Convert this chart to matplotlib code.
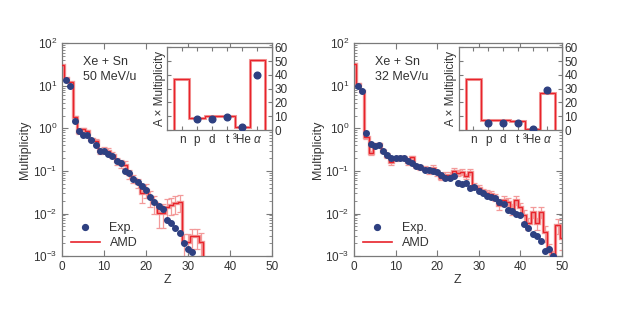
import matplotlib
matplotlib.use('Agg')
import matplotlib.pyplot as plt
from matplotlib.lines import Line2D
import numpy as np

plt.rcParams['font.family'] = ['Liberation Sans', 'DejaVu Sans']
plt.rcParams['mathtext.fontset'] = 'dejavusans'

# %% Data

# 50 MeV/u
exp50_z = list(range(1, 32))
exp50 = [13.5, 9.8, 1.45, 0.88, 0.70, 0.70, 0.54, 0.41, 0.29, 0.29, 0.25, 0.22,
         0.172, 0.152, 0.100, 0.088, 0.066, 0.055, 0.045, 0.035, 0.024, 0.019,
         0.0150, 0.0125, 0.0071, 0.0060, 0.0046, 0.0034, 0.0020, 0.00148, 0.00128]
amd50 = [31, 15, 12, 1.8, 0.8, 0.95, 0.85, 0.55, 0.5, 0.29, 0.31, 0.29, 0.24,
         0.17, 0.15, 0.14, 0.085, 0.066, 0.052, 0.030, 0.036, 0.024, 0.018,
         0.0105, 0.0105, 0.0145, 0.016, 0.018, 0.019, 0.0021, 0.0021, 0.0029,
         0.0029, 0.0022, 0.0002]
amd50_err = [0.5, 0.3, 0.3, 0.15, 0.06, 0.08, 0.07, 0.05, 0.05, 0.04, 0.05, 0.05,
             0.04, 0.03, 0.03, 0.03, 0.02, 0.015, 0.013, 0.012, 0.013, 0.01, 0.008,
             0.006, 0.006, 0.007, 0.007, 0.008, 0.008, 0.0012, 0.0012, 0.0014,
             0.0014, 0.0012, 0.0]

# 32 MeV/u
exp32_z = list(range(1, 49))
exp32 = [10.0, 7.6, 0.78, 0.42, 0.39, 0.41, 0.29, 0.24, 0.20, 0.20, 0.205, 0.20,
         0.17, 0.152, 0.127, 0.122, 0.106, 0.106, 0.102, 0.093, 0.082, 0.069,
         0.069, 0.074, 0.051, 0.048, 0.051, 0.040, 0.043, 0.033, 0.030, 0.026,
         0.024, 0.023, 0.019, 0.0165, 0.0120, 0.0115, 0.0096, 0.0093, 0.0057,
         0.0045, 0.0033, 0.0029, 0.0023, 0.00135, 0.00145, 0.00102]
amd32 = [33, 11.2, 7.4, 0.62, 0.27, 0.42, 0.42, 0.30, 0.23, 0.16, 0.19, 0.21,
         0.20, 0.16, 0.21, 0.13, 0.12, 0.115, 0.10, 0.12, 0.09, 0.07, 0.08, 0.08,
         0.10, 0.09, 0.095, 0.075, 0.095, 0.045, 0.040, 0.033, 0.031, 0.029,
         0.024, 0.016, 0.021, 0.019, 0.013, 0.021, 0.014, 0.0094, 0.006, 0.011,
         0.006, 0.011, 0.0037, 0.0013, 0.0009, 0.0053, 0.0026]
amd32_err = [0.5, 0.3, 0.2, 0.05, 0.03, 0.04, 0.04, 0.03, 0.03, 0.02, 0.02, 0.02,
             0.02, 0.02, 0.02, 0.015, 0.015, 0.015, 0.015, 0.015, 0.013, 0.01, 0.012,
             0.012, 0.014, 0.013, 0.014, 0.011, 0.013, 0.007, 0.006, 0.005, 0.005,
             0.005, 0.004, 0.004, 0.005, 0.004, 0.004, 0.005, 0.004, 0.003, 0.002,
             0.003, 0.002, 0.003, 0.0015, 0.0006, 0.0004, 0.002, 0.0012]

# insets: A x multiplicity
part_labels = ['n', 'p', 'd', 't', '\u00b3He', '\u03b1']
ins50_amd = [37, 8.5, 10, 10, 2, 51]
ins50_exp = [None, 8, 8.3, 9.5, 2.5, 40]
ins32_amd = [37, 7.5, 7, 6.5, 1, 27]
ins32_exp = [None, 5.5, 5.5, 5.5, 0.8, 29]

RED = '#e8232b'
PINK = '#f39a9a'
BLUE = '#2e4081'
GRAY = '#7a7a7a'
TXT = '#333333'

# %% Drawing

def style_axes(ax):
    for s in ax.spines.values():
        s.set_color(GRAY)
        s.set_linewidth(0.9)
    ax.tick_params(which='both', direction='in', colors=GRAY, labelcolor=TXT,
                   top=True, right=True, labelsize=8.5)


def main_panel(ax, exp_z, exp, amd, amd_err, energy):
    edges = np.arange(len(amd) + 1) - 0.5
    centers = np.arange(len(amd))
    ax.errorbar(centers, amd, yerr=amd_err, fmt='none', ecolor=PINK,
                elinewidth=0.9, capsize=2, capthick=0.9, zorder=1)
    ax.stairs(amd, edges, baseline=None, color=PINK, lw=2.4, zorder=2)
    ax.stairs(amd, edges, baseline=None, color=RED, lw=1.0, zorder=3)
    ax.plot(exp_z, exp, 'o', color=BLUE, ms=4.0, zorder=4)
    ax.set_yscale('log')
    ax.set_xlim(0, 50)
    ax.set_ylim(1e-3, 1e2)
    ax.set_xticks([0, 10, 20, 30, 40, 50])
    ax.set_xlabel('Z', fontsize=9, color=TXT, labelpad=1)
    ax.set_ylabel('Multiplicity', fontsize=9, color=TXT, labelpad=1)
    style_axes(ax)
    ax.tick_params(which='major', length=4)
    ax.tick_params(which='minor', length=2)
    ax.text(0.1, 0.94, 'Xe + Sn\n%s MeV/u' % energy, transform=ax.transAxes,
            va='top', ha='left', fontsize=9, color=TXT, linespacing=1.3)
    hl = [Line2D([], [], ls='none', marker='o', color=BLUE, ms=4.2),
          Line2D([], [], color=RED, lw=1.2)]
    ax.legend(hl, ['Exp.', 'AMD'], loc='lower left', frameon=False,
              fontsize=9, handlelength=2.3, handletextpad=0.8,
              labelspacing=0.25, borderaxespad=0.3,
              bbox_to_anchor=(0.0, -0.01), labelcolor=TXT)


def inset_panel(ax, amd, exp):
    x = np.arange(len(amd))
    edges = np.arange(len(amd) + 1) - 0.5
    ax.stairs(amd, edges, baseline=0, color=PINK, lw=2.2)
    ax.stairs(amd, edges, baseline=0, color=RED, lw=0.9)
    ex = [xi for xi, v in zip(x, exp) if v is not None]
    ev = [v for v in exp if v is not None]
    ax.plot(ex, ev, 'o', color=BLUE, ms=4.8, zorder=5)
    ax.set_xlim(-0.97, 5.96)
    ax.set_ylim(0, 60)
    ax.set_xticks(x)
    ax.set_xticklabels(part_labels)
    ax.get_xticklabels()[-1].set_fontstyle('italic')
    ax.set_yticks(range(0, 61, 10))
    style_axes(ax)
    ax.tick_params(labelleft=False, labelright=True, length=3, pad=2,
                   labelsize=8.5)
    ax.tick_params(axis='x', pad=3)
    ax.set_ylabel('A \u00d7 Multiplicity', fontsize=8.5, color=TXT,
                  labelpad=1)


fig = plt.figure(figsize=(6.2, 3.15), dpi=100)

ax1 = fig.add_axes([0.100, 0.187, 0.339, 0.676])
main_panel(ax1, exp50_z, exp50, amd50, amd50_err, '50')
ins1 = fig.add_axes([0.270, 0.587, 0.168, 0.263])
inset_panel(ins1, ins50_amd, ins50_exp)

ax2 = fig.add_axes([0.571, 0.187, 0.335, 0.676])
main_panel(ax2, exp32_z, exp32, amd32, amd32_err, '32')
ins2 = fig.add_axes([0.740, 0.587, 0.166, 0.263])
inset_panel(ins2, ins32_amd, ins32_exp)

fig.savefig('out.png', dpi=100)
